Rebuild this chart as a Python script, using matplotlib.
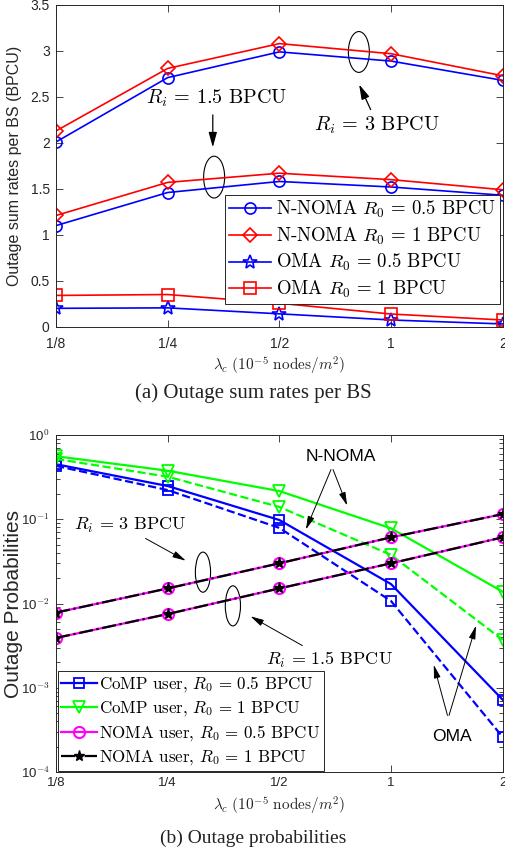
import numpy as np
import matplotlib
matplotlib.use('Agg')
import matplotlib.pyplot as plt
from matplotlib.patches import Ellipse

plt.rcParams['mathtext.fontset'] = 'cm'
plt.rcParams['font.family'] = ['Liberation Sans', 'DejaVu Sans']

lam = [0.125, 0.25, 0.5, 1, 2]
lam_labels = ['1/8', '1/4', '1/2', '1', '2']

# (a) outage sum rates per BS
nnoma_05_hi = [2.01, 2.71, 2.99, 2.89, 2.68]
nnoma_1_hi = [2.13, 2.81, 3.08, 2.97, 2.73]
nnoma_05_lo = [1.10, 1.46, 1.58, 1.52, 1.43]
nnoma_1_lo = [1.21, 1.57, 1.67, 1.60, 1.49]
oma_05 = [0.20, 0.205, 0.14, 0.073, 0.03]
oma_1 = [0.34, 0.35, 0.255, 0.138, 0.073]

# (b) outage probabilities
comp_05 = [0.45, 0.248, 0.098, 0.017, 0.00072]
comp_1 = [0.56, 0.377, 0.216, 0.078, 0.0138]
comp_05_oma = [0.43, 0.222, 0.079, 0.0107, 0.00026]
comp_1_oma = [0.52, 0.32, 0.14, 0.0377, 0.0037]
noma_ri3 = [0.0078, 0.0151, 0.030, 0.061, 0.115]
noma_ri15 = [0.0039, 0.0075, 0.0151, 0.030, 0.061]

cm_font = ['cmr10', 'DejaVu Serif']
gray = '#262626'

fig = plt.figure(figsize=(5.06, 8.52), dpi=100)
ax1 = fig.add_axes([56/506, 1-326.7/852, 446.7/506, 321.7/852])
ax2 = fig.add_axes([56/506, 1-772/852, 446.7/506, 337/852])

def style(ax, fs, xpad, ypad):
    ax.set_xscale('log', base=2)
    ax.set_xlim(0.125, 2)
    ax.set_xticks(lam)
    ax.set_xticklabels(lam_labels)
    ax.xaxis.set_minor_locator(matplotlib.ticker.NullLocator())
    ax.tick_params(which='both', direction='in', top=True, right=True,
                   labelsize=fs, colors=gray, length=5, width=0.6)
    ax.tick_params(which='minor', length=3)
    ax.tick_params(axis='x', pad=xpad)
    ax.tick_params(axis='y', pad=ypad)
    for s in ax.spines.values():
        s.set_color(gray)
        s.set_linewidth(0.7)

# ---- top plot
lw = 1.2
ax1.plot(lam, nnoma_05_hi, 'b-o', lw=lw, ms=8, mfc='none', mew=1.2,
         label=r'N-NOMA $R_0\,=\,0.5$ BPCU')
ax1.plot(lam, nnoma_1_hi, 'r-D', lw=lw, ms=7, mfc='none', mew=1.2,
         label=r'N-NOMA $R_0\,=\,1$ BPCU')
ax1.plot(lam, nnoma_05_lo, 'b-o', lw=lw, ms=8, mfc='none', mew=1.2)
ax1.plot(lam, nnoma_1_lo, 'r-D', lw=lw, ms=7, mfc='none', mew=1.2)
ax1.plot(lam, oma_05, 'b-*', lw=lw, ms=10, mfc='none', mew=1.2,
         label=r'OMA $R_0\,=\,0.5$ BPCU')
ax1.plot(lam, oma_1, 'r-s', lw=lw, ms=8, mfc='none', mew=1.2,
         label=r'OMA $R_0\,=\,1$ BPCU')
style(ax1, 10, 7.5, 4.5)
ax1.set_ylim(0, 3.5)
ax1.set_yticks(np.arange(0, 3.51, 0.5))
ax1.set_yticklabels(['0', '0.5', '1', '1.5', '2', '2.5', '3', '3.5'])
ax1.set_ylabel('Outage sum rates per BS (BPCU)', fontsize=11.5, color=gray)
ax1.yaxis.set_label_coords(-0.076, 0.5)
ax1.set_xlabel(r'$\lambda_c\ (10^{-5}\ \mathrm{nodes}/m^2)$', fontsize=11, color=gray, labelpad=3)
leg = ax1.legend(loc='upper right', bbox_to_anchor=(0.993, 0.41), fancybox=False,
                 edgecolor=gray, framealpha=1, handlelength=2.25,
                 borderpad=0.2, labelspacing=0.3, handletextpad=0.25,
                 borderaxespad=0, prop={'family': cm_font, 'size': 13.5})
leg.get_frame().set_linewidth(0.7)

ax1.add_patch(Ellipse((0.678, 0.854), 0.047, 0.127, transform=ax1.transAxes,
                      fill=False, ec='k', lw=0.8))
ax1.add_patch(Ellipse((0.354, 0.465), 0.047, 0.13, transform=ax1.transAxes,
                      fill=False, ec='k', lw=0.8))
ax1.text(0.36, 0.711, r'$R_i\,=\,1.5$ BPCU', transform=ax1.transAxes, ha='center',
         va='center', fontsize=14.5, family=cm_font)
ax1.annotate('', xy=(0.351, 0.549), xytext=(0.351, 0.667), xycoords='axes fraction',
             arrowprops=dict(arrowstyle='-|>,head_length=0.9,head_width=0.25',
                             color='k', lw=0.9))
ax1.text(0.719, 0.627, r'$R_i\,=\,3$ BPCU', transform=ax1.transAxes, ha='center',
         va='center', fontsize=14.5, family=cm_font)
ax1.annotate('', xy=(0.676, 0.761), xytext=(0.707, 0.667), xycoords='axes fraction',
             arrowprops=dict(arrowstyle='-|>,head_length=0.9,head_width=0.25',
                             color='k', lw=0.9))

# ---- bottom plot
lw2 = 1.6
ax2.plot(lam, comp_05, 'b-s', lw=lw2, ms=7, mfc='none', mew=1.3,
         label=r'CoMP user, $R_0\,=\,0.5$ BPCU')
ax2.plot(lam, comp_1, '-v', color='#00ff00', lw=lw2, ms=8, mfc='none', mew=1.3,
         label=r'CoMP user, $R_0\,=\,1$ BPCU')
ax2.plot(lam, comp_05_oma, 'b--s', lw=lw2, ms=7, mfc='none', mew=1.3)
ax2.plot(lam, comp_1_oma, '--v', color='#00ff00', lw=lw2, ms=8, mfc='none', mew=1.3)
ax2.plot(lam, noma_ri3, '-o', color='#ff00ff', lw=lw2, ms=8, mfc='none', mew=1.5,
         label=r'NOMA user, $R_0\,=\,0.5$ BPCU')
ax2.plot(lam, noma_ri15, '-o', color='#ff00ff', lw=lw2, ms=8, mfc='none', mew=1.5)
ax2.plot(lam, noma_ri3, 'k-.', marker='*', lw=lw2, ms=8, mfc='k', mew=1,
         label=r'NOMA user, $R_0\,=\,1$ BPCU')
ax2.plot(lam, noma_ri15, 'k-.', marker='*', lw=lw2, ms=8, mfc='k', mew=1)
ax2.set_yscale('log')
style(ax2, 9.5, 3.5, 4.5)
ax2.set_ylim(1e-4, 1)
ax2.set_yticks([1e-4, 1e-3, 1e-2, 1e-1, 1])
ax2.set_yticklabels([r'10$^{-4}$', r'10$^{-3}$', r'10$^{-2}$', r'10$^{-1}$', r'10$^{0}$'])
ax2.set_ylabel('Outage Probabilities', fontsize=15, color=gray)
ax2.yaxis.set_label_coords(-0.074, 0.5)
ax2.set_xlabel(r'$\lambda_c\ (10^{-5}\ \mathrm{nodes}/m^2)$', fontsize=11, color=gray, labelpad=4)
leg2 = ax2.legend(loc='lower left', bbox_to_anchor=(0.004, 0.004), fancybox=False,
                  edgecolor=gray, framealpha=1, handlelength=2.1,
                  borderpad=0.2, labelspacing=0.3, handletextpad=0.15,
                  borderaxespad=0, prop={'family': cm_font, 'size': 12.2})
leg2.get_frame().set_linewidth(0.7)

ax2.text(0.638, 0.935, 'N-NOMA', transform=ax2.transAxes, ha='center', va='center',
         fontsize=12.6)
for end in [(0.557, 0.712), (0.654, 0.783)]:
    ax2.annotate('', xy=end, xytext=(0.618, 0.905), xycoords='axes fraction',
                 arrowprops=dict(arrowstyle='-|>,head_length=0.8,head_width=0.2',
                                 color='k', lw=0.7))
ax2.text(0.166, 0.733, r'$R_i\,=\,3$ BPCU', transform=ax2.transAxes, ha='center',
         va='center', fontsize=13, family=cm_font)
ax2.annotate('', xy=(0.296, 0.623), xytext=(0.195, 0.697), xycoords='axes fraction',
             arrowprops=dict(arrowstyle='-|>,head_length=0.8,head_width=0.2',
                             color='k', lw=0.7))
ax2.add_patch(Ellipse((0.329, 0.593), 0.034, 0.119, transform=ax2.transAxes,
                      fill=False, ec='k', lw=0.8))
ax2.add_patch(Ellipse((0.396, 0.493), 0.034, 0.119, transform=ax2.transAxes,
                      fill=False, ec='k', lw=0.8))
ax2.text(0.613, 0.332, r'$R_i\,=\,1.5$ BPCU', transform=ax2.transAxes, ha='center',
         va='center', fontsize=13, family=cm_font)
ax2.annotate('', xy=(0.430, 0.466), xytext=(0.557, 0.371), xycoords='axes fraction',
             arrowprops=dict(arrowstyle='-|>,head_length=0.8,head_width=0.2',
                             color='k', lw=0.7))
ax2.text(0.886, 0.104, 'OMA', transform=ax2.transAxes, ha='center', va='center',
         fontsize=12.6)
for end in [(0.844, 0.326), (0.942, 0.442)]:
    ax2.annotate('', xy=end, xytext=(0.878, 0.160), xycoords='axes fraction',
                 arrowprops=dict(arrowstyle='-|>,head_length=0.8,head_width=0.2',
                                 color='k', lw=0.7))

fig.text(0.5, 1-393/852, '(a) Outage sum rates per BS', ha='center', va='center',
         fontsize=15, family='Liberation Serif', color='#222222')
fig.text(0.5, 1-838/852, '(b) Outage probabilities', ha='center', va='center',
         fontsize=14, family='Liberation Serif', color='#222222')

fig.savefig('out.png', dpi=100)
